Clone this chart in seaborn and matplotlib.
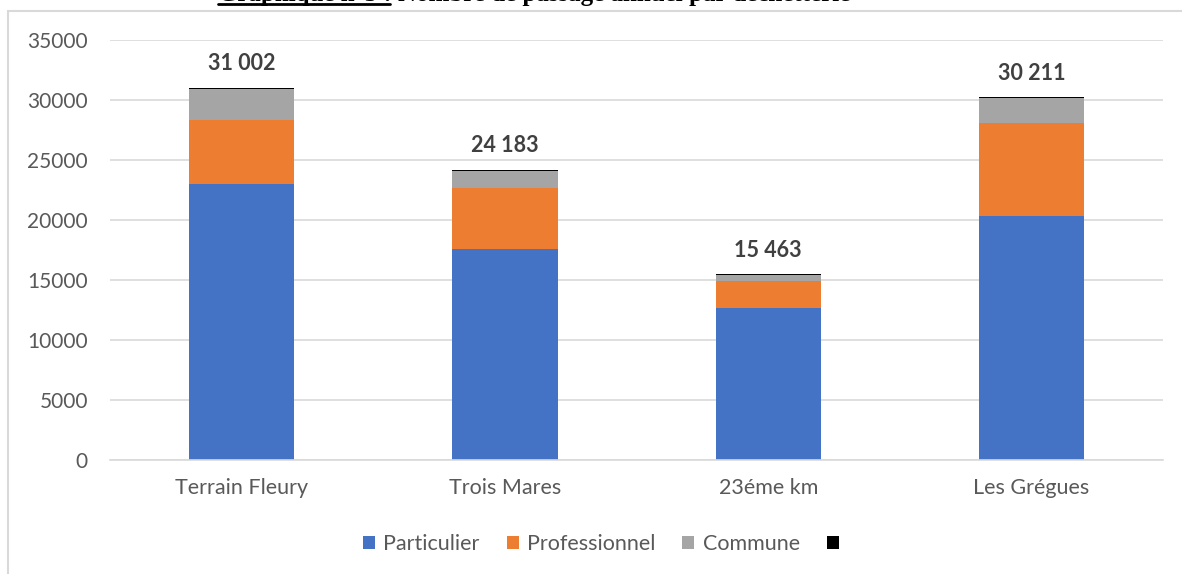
import numpy as np
import pandas as pd
import matplotlib
matplotlib.use("Agg")
import matplotlib.pyplot as plt
from matplotlib.patches import Patch, Rectangle
from matplotlib.lines import Line2D
import seaborn as sb

## data
sites = ["Terrain Fleury", "Trois Mares", "23éme km", "Les Grégues"]
particulier = [23000, 17600, 12700, 20350]
professionnel = [5300, 5100, 2200, 7700]
commune = [2600, 1400, 480, 2100]
autre = [102, 83, 83, 61]
totals = [31002, 24183, 15463, 30211]

series_names = ["Particulier", "Professionnel", "Commune", ""]
colors = ["#4472C4", "#ED7D31", "#A5A5A5", "#000000"]

sb.set_style("white")
plt.rcParams['font.family'] = ['Lato', 'DejaVu Sans']

df = pd.DataFrame({"site": sites,
                   "Particulier": particulier,
                   "Professionnel": professionnel,
                   "Commune": commune,
                   "autre": autre})
layers = ["Particulier", "Professionnel", "Commune", "autre"]
cum = df[layers].cumsum(axis=1)

fig = plt.figure(figsize=(11.82, 5.74), dpi=100)
ax = fig.add_axes([0.0931, 0.1986, 0.891, 0.7317])

## stacked bars: draw cumulative heights from top layer down
for col, c in reversed(list(zip(layers, colors))):
    sb.barplot(x=df["site"], y=cum[col], color=c, width=0.4,
               saturation=1, linewidth=0, ax=ax, zorder=2)

for i, t in enumerate(totals):
    ax.text(i, t + 1150, f"{t:,}".replace(",", " "), ha='center', va='bottom',
            fontsize=15.5, fontweight='bold', color='#404040')

ax.set_ylim(0, 35000)
ax.set_yticks(np.arange(0, 35001, 5000))
ax.yaxis.grid(True, color='#D9D9D9', lw=1.2, zorder=0)
ax.set_axisbelow(True)
for s in ['top', 'right', 'left']:
    ax.spines[s].set_visible(False)
ax.spines['bottom'].set_color('#D9D9D9')
ax.spines['bottom'].set_linewidth(1.2)
ax.tick_params(axis='y', length=0, pad=16, labelsize=15, labelcolor='#595959')
ax.tick_params(axis='x', length=0, pad=13, labelsize=15.5, labelcolor='#595959')
ax.set_xlabel("")
ax.set_ylabel("")

handles = [Patch(facecolor=c, edgecolor='none') for c in colors]
fig.legend(handles, series_names, loc='center', bbox_to_anchor=(0.512, 0.052),
           ncol=4, frameon=False, fontsize=15.5, labelcolor='#595959',
           handlelength=0.55, handleheight=0.55, handletextpad=0.4,
           columnspacing=1.25)

## chart frame
fig.patches.append(Rectangle((8 / 1182, -0.1), 1.2, 1.1 - 11 / 574,
                             transform=fig.transFigure, fill=False,
                             edgecolor='#D9D9D9', lw=1.5))

## title, cut off at the top of the picture
fig.text(218 / 1182, 1 - 0.5 / 574, "Graphique n°5 : Nombre de passage annuel par déchetterie",
         ha='left', va='baseline', fontsize=18, fontweight='bold',
         family=['Liberation Serif'], color='black')
fig.add_artist(Line2D([218 / 1182, 390 / 1182], [1 - 4.3 / 574, 1 - 4.3 / 574],
                      transform=fig.transFigure, color='black', lw=2))

fig.savefig("out.png", dpi=100)
